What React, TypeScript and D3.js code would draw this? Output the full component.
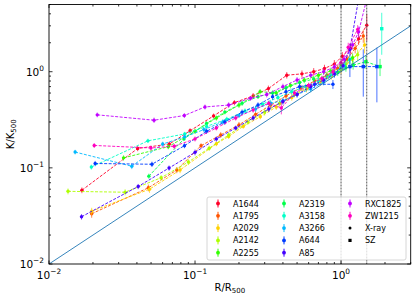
import * as d3 from "d3";

// cluster names and gist_rainbow colours (12 samples)
const clusterNames = ["A1644", "A1795", "A2029", "A2142", "A2255", "A2319", "A3158", "A3266", "A644", "A85", "RXC1825", "ZW1215"];
const clusterColors = ["#ff0029", "#ff5400", "#ffd100", "#afff00", "#32ff00", "#00ff4b", "#00ffc7", "#00b9ff", "#003bff", "#4300ff", "#c100ff", "#ff00bf"];

// X-ray profiles: R/R500, K/K500, error
const a1644R = [0.0168, 0.0405, 0.0667, 0.0925, 0.134, 0.186, 0.25, 0.318, 0.425, 0.54, 0.65, 0.77, 0.9, 1.02, 1.16, 1.32, 1.5];
const a1644K = [0.0585, 0.159, 0.177, 0.243, 0.347, 0.477, 0.56, 0.667, 0.92, 0.95, 1.0, 1.08, 1.2, 1.45, 1.75, 2.2, 3.05];
const a1644E = [0.004, 0.01, 0.01, 0.015, 0.02, 0.03, 0.04, 0.05, 0.07, 0.08, 0.09, 0.1, 0.12, 0.15, 0.2, 0.3, 0.95];

const a1795R = [0.0196, 0.0479, 0.075, 0.11, 0.15, 0.2, 0.26, 0.33, 0.42, 0.53, 0.66, 0.8, 0.95, 1.1, 1.25, 1.42];
const a1795K = [0.0333, 0.062, 0.095, 0.17, 0.22, 0.28, 0.36, 0.45, 0.56, 0.68, 0.8, 0.92, 1.08, 1.35, 1.75, 2.35];
const a1795E = [0.003, 0.005, 0.007, 0.01, 0.015, 0.02, 0.025, 0.03, 0.04, 0.05, 0.07, 0.08, 0.1, 0.15, 0.2, 0.35];

const a2029R = [0.0196, 0.0488, 0.079, 0.14, 0.17, 0.214, 0.28, 0.36, 0.46, 0.58, 0.72, 0.86, 1.0, 1.2, 1.45];
const a2029K = [0.0354, 0.06, 0.095, 0.178, 0.212, 0.27, 0.34, 0.43, 0.54, 0.66, 0.78, 0.9, 1.05, 1.35, 1.9];
const a2029E = [0.003, 0.005, 0.007, 0.01, 0.012, 0.015, 0.02, 0.03, 0.04, 0.05, 0.06, 0.07, 0.1, 0.15, 0.35];

const a2142R = [0.0135, 0.0332, 0.0586, 0.09, 0.125, 0.17, 0.23, 0.3, 0.38, 0.48, 0.6, 0.74, 0.9, 1.08, 1.3];
const a2142K = [0.057, 0.0558, 0.079, 0.115, 0.16, 0.22, 0.3, 0.38, 0.47, 0.58, 0.7, 0.82, 0.98, 1.2, 1.5];
const a2142E = [0.004, 0.004, 0.005, 0.008, 0.01, 0.015, 0.02, 0.03, 0.035, 0.04, 0.05, 0.07, 0.09, 0.12, 0.2];

const a2255R = [0.0324, 0.0656, 0.1, 0.14, 0.2, 0.279, 0.36, 0.45, 0.56, 0.7, 0.85, 1.0, 1.2];
const a2255K = [0.127, 0.166, 0.24, 0.33, 0.45, 0.62, 0.6, 0.72, 0.82, 0.92, 1.02, 1.18, 1.4];
const a2255E = [0.008, 0.01, 0.015, 0.02, 0.03, 0.04, 0.04, 0.05, 0.06, 0.07, 0.08, 0.1, 0.15];

const a2319R = [0.0483, 0.084, 0.12, 0.16, 0.21, 0.27, 0.34, 0.42, 0.52, 0.65, 0.8, 0.95, 1.08];
const a2319K = [0.082, 0.2, 0.29, 0.38, 0.47, 0.55, 0.6, 0.68, 0.77, 0.84, 0.9, 0.98, 1.1];
const a2319E = [0.005, 0.01, 0.015, 0.02, 0.03, 0.03, 0.04, 0.05, 0.05, 0.06, 0.07, 0.08, 0.1];

const a3158R = [0.0195, 0.0476, 0.085, 0.12, 0.165, 0.22, 0.29, 0.37, 0.46, 0.57, 0.7, 0.85, 1.0, 1.15];
const a3158K = [0.102, 0.191, 0.225, 0.27, 0.32, 0.39, 0.46, 0.54, 0.62, 0.7, 0.8, 0.93, 1.1, 1.35];
const a3158E = [0.006, 0.01, 0.012, 0.015, 0.02, 0.025, 0.03, 0.04, 0.05, 0.05, 0.06, 0.08, 0.1, 0.15];

const a3266R = [0.0151, 0.0369, 0.0601, 0.085, 0.115, 0.155, 0.2, 0.26, 0.33, 0.4, 0.5, 0.62, 0.76, 0.9, 1.05];
const a3266K = [0.146, 0.104, 0.177, 0.21, 0.25, 0.3, 0.35, 0.41, 0.47, 0.5, 0.58, 0.66, 0.78, 0.95, 1.15];
const a3266E = [0.008, 0.007, 0.01, 0.012, 0.015, 0.02, 0.02, 0.03, 0.03, 0.04, 0.04, 0.05, 0.06, 0.08, 0.12];

const a644R = [0.0207, 0.0507, 0.0847, 0.12, 0.16, 0.21, 0.27, 0.34, 0.42, 0.52, 0.66, 0.88];
const a644K = [0.111, 0.109, 0.17, 0.24, 0.3, 0.38, 0.45, 0.55, 0.62, 0.7, 0.74, 0.74];
const a644E = [0.007, 0.007, 0.01, 0.015, 0.02, 0.025, 0.03, 0.04, 0.05, 0.05, 0.06, 0.08];

const a85R = [0.0167, 0.0408, 0.0664, 0.1, 0.14, 0.19, 0.25, 0.32, 0.4, 0.5, 0.62, 0.76, 0.9, 1.03, 1.15, 1.35];
const a85K = [0.031, 0.064, 0.0996, 0.145, 0.2, 0.26, 0.33, 0.41, 0.49, 0.58, 0.7, 0.82, 0.95, 1.15, 1.7, 7.0];
const a85E = [0.002, 0.004, 0.006, 0.01, 0.012, 0.015, 0.02, 0.03, 0.035, 0.04, 0.05, 0.06, 0.08, 0.1, 0.25, 0.8];

const rxc1825R = [0.0214, 0.0524, 0.0845, 0.117, 0.17, 0.24, 0.31, 0.4, 0.5, 0.62, 0.76, 0.9, 1.05, 1.2, 1.32, 1.55];
const rxc1825K = [0.356, 0.313, 0.35, 0.43, 0.45, 0.53, 0.58, 0.7, 0.82, 0.92, 1.0, 1.12, 1.35, 1.9, 2.6, 7.0];
const rxc1825E = [0.02, 0.02, 0.02, 0.025, 0.03, 0.03, 0.04, 0.05, 0.06, 0.07, 0.08, 0.1, 0.12, 0.2, 0.35, 0.8];

const zw1215R = [0.0204, 0.0499, 0.072, 0.1, 0.14, 0.19, 0.25, 0.32, 0.39, 0.48, 0.6, 0.74, 0.88, 1.0, 1.12, 1.3];
const zw1215K = [0.171, 0.161, 0.168, 0.2, 0.26, 0.33, 0.4, 0.47, 0.42, 0.6, 0.72, 0.85, 1.0, 1.25, 1.8, 2.75];
const zw1215E = [0.01, 0.01, 0.01, 0.012, 0.015, 0.02, 0.025, 0.03, 0.06, 0.04, 0.05, 0.06, 0.08, 0.1, 0.2, 0.3];

// SZ profiles
const a2319SzR = [1.21, 1.48, 1.85];
const a2319SzK = [1.17, 1.27, 1.13];
const a2319SzE = [0.12, 0.2, 0.23];

const a3158SzR = [1.9];
const a3158SzK = [2.8];
const a3158SzE = [1.3];

const a644SzR = [1.15, 1.42, 1.76];
const a644SzK = [1.13, 1.13, 1.13];
const a644SzE = [0.25, 0.58, 0.65];

const xDomain = [0.01, 3];
const yDomain = [0.01, 5];
const majorExps = [-2, -1, 0];
const vLines = [1, 1.5];

type Prof = { r: number[]; k: number[]; e: number[] };
const xray: Prof[] = [
  { r: a1644R, k: a1644K, e: a1644E },
  { r: a1795R, k: a1795K, e: a1795E },
  { r: a2029R, k: a2029K, e: a2029E },
  { r: a2142R, k: a2142K, e: a2142E },
  { r: a2255R, k: a2255K, e: a2255E },
  { r: a2319R, k: a2319K, e: a2319E },
  { r: a3158R, k: a3158K, e: a3158E },
  { r: a3266R, k: a3266K, e: a3266E },
  { r: a644R, k: a644K, e: a644E },
  { r: a85R, k: a85K, e: a85E },
  { r: rxc1825R, k: rxc1825K, e: rxc1825E },
  { r: zw1215R, k: zw1215K, e: zw1215E },
];
const sz: (Prof | null)[] = [
  null, null, null, null, null,
  { r: a2319SzR, k: a2319SzK, e: a2319SzE },
  { r: a3158SzR, k: a3158SzK, e: a3158SzE },
  null,
  { r: a644SzR, k: a644SzK, e: a644SzE },
  null, null, null,
];

const FONT = "DejaVu Sans, sans-serif";
const L = 49, T = 4.5, R = 410.7, B = 264;

function Pow10({ x, y, exp, anchor }: { x: number; y: number; exp: number; anchor: string }) {
  return (
    <text x={x} y={y} textAnchor={anchor} fontSize={10.5} fontFamily={FONT} fill="#000">
      10
      <tspan dy={-4.6} fontSize={7.4}>{exp < 0 ? `\u2212${-exp}` : `${exp}`}</tspan>
    </text>
  );
}

export default function App() {
  const x = d3.scaleLog().domain(xDomain).range([L, R]);
  const y = d3.scaleLog().domain(yDomain).range([B, T]);
  const line = d3
    .line<[number, number]>()
    .x((d) => x(d[0]))
    .y((d) => y(d[1]));

  const isMajor = (v: number) => Math.abs(Math.log10(v) - Math.round(Math.log10(v))) < 1e-6;
  const xt = x.ticks();
  const yt = y.ticks();

  const drawProf = (p: Prof, color: string, key: string, square: boolean) => {
    const pts = p.r.map((r, i) => [r, p.k[i]] as [number, number]);
    return (
      <g key={key}>
        <path d={line(pts) || ""} fill="none" stroke={color} strokeWidth={0.9} strokeDasharray="3,1.5" />
        {p.r.map((r, i) => (
          <line
            key={`e${i}`}
            x1={x(r)}
            x2={x(r)}
            y1={y(Math.max(p.k[i] - p.e[i], 0.001))}
            y2={y(p.k[i] + p.e[i])}
            stroke={color}
            strokeWidth={1}
            opacity={0.7}
          />
        ))}
        {p.r.map((r, i) =>
          square ? (
            <rect key={`m${i}`} x={x(r) - 1.7} y={y(p.k[i]) - 1.7} width={3.4} height={3.4} fill={color} />
          ) : (
            <circle key={`m${i}`} cx={x(r)} cy={y(p.k[i])} r={1.7} fill={color} />
          ),
        )}
      </g>
    );
  };

  // legend layout
  const legendItems = [...clusterNames.map((n, i) => ({ name: n, color: clusterColors[i], kind: "c" })),
    { name: "X-ray", color: "#000", kind: "x" },
    { name: "SZ", color: "#000", kind: "s" }];
  const colX = [218, 284, 350];
  const rowY = [203.5, 215.8, 228.1, 240.4, 252.7];

  return (
    <svg width={415} height={297} style={{ position: "absolute", left: 0, top: 0, background: "#fff" }}>
      <defs>
        <clipPath id="plotclip">
          <rect x={L} y={T} width={R - L} height={B - T} />
        </clipPath>
      </defs>
      <g clipPath="url(#plotclip)">
        {xray.map((p, i) => drawProf(p, clusterColors[i], `x${i}`, false))}
        {sz.map((p, i) => (p ? drawProf(p, clusterColors[i], `s${i}`, true) : null))}
        <line x1={x(xDomain[0])} y1={y(xDomain[0])} x2={x(xDomain[1])} y2={y(xDomain[1])} stroke="#1f77b4" strokeWidth={0.9} />
        {vLines.map((v) => (
          <line key={v} x1={x(v)} x2={x(v)} y1={T} y2={B} stroke="#555" strokeWidth={1} strokeDasharray="2,1" />
        ))}
      </g>

      {/* ticks on all sides, pointing in */}
      {xt.map((v, i) => {
        const len = isMajor(v) ? 3.5 : 2;
        return (
          <g key={`xt${i}`} stroke="#000" strokeWidth={0.8}>
            <line x1={x(v)} x2={x(v)} y1={B} y2={B - len} />
            <line x1={x(v)} x2={x(v)} y1={T} y2={T + len} />
          </g>
        );
      })}
      {yt.map((v, i) => {
        const len = isMajor(v) ? 3.5 : 2;
        return (
          <g key={`yt${i}`} stroke="#000" strokeWidth={0.8}>
            <line x1={L} x2={L + len} y1={y(v)} y2={y(v)} />
            <line x1={R} x2={R - len} y1={y(v)} y2={y(v)} />
          </g>
        );
      })}
      <rect x={L} y={T} width={R - L} height={B - T} fill="none" stroke="#000" strokeWidth={0.9} />

      {majorExps.map((e) => (
        <Pow10 key={`xl${e}`} x={x(10 ** e)} y={278.5} exp={e} anchor="middle" />
      ))}
      {majorExps.map((e) => (
        <Pow10 key={`yl${e}`} x={44} y={y(10 ** e) + 4} exp={e} anchor="end" />
      ))}

      <text x={(L + R) / 2} y={291} textAnchor="middle" fontSize={10} fontFamily={FONT}>
        R/R<tspan dy={2} fontSize={7}>500</tspan>
      </text>
      <text transform={`translate(13.5,${(T + B) / 2}) rotate(-90)`} textAnchor="middle" fontSize={10} fontFamily={FONT}>
        K/K<tspan dy={2} fontSize={7}>500</tspan>
      </text>

      {/* legend */}
      <rect x={207} y={197} width={199} height={63} rx={2} fill="#fff" fillOpacity={0.8} stroke="#ccc" strokeWidth={0.8} />
      {legendItems.map((it, i) => {
        const cx = colX[Math.floor(i / 5)];
        const cy = rowY[i % 5];
        return (
          <g key={it.name}>
            {it.kind === "c" && (
              <>
                <line x1={cx} x2={cx} y1={cy - 4} y2={cy + 4} stroke={it.color} strokeWidth={1} />
                <circle cx={cx} cy={cy} r={1.9} fill={it.color} />
              </>
            )}
            {it.kind === "x" && <circle cx={cx} cy={cy} r={1.5} fill="#000" />}
            {it.kind === "s" && <rect x={cx - 1.6} y={cy - 1.6} width={3.2} height={3.2} fill="#000" />}
            <text x={cx + 15} y={cy + 3} fontSize={8} fontFamily={FONT}>
              {it.name}
            </text>
          </g>
        );
      })}
    </svg>
  );
}
